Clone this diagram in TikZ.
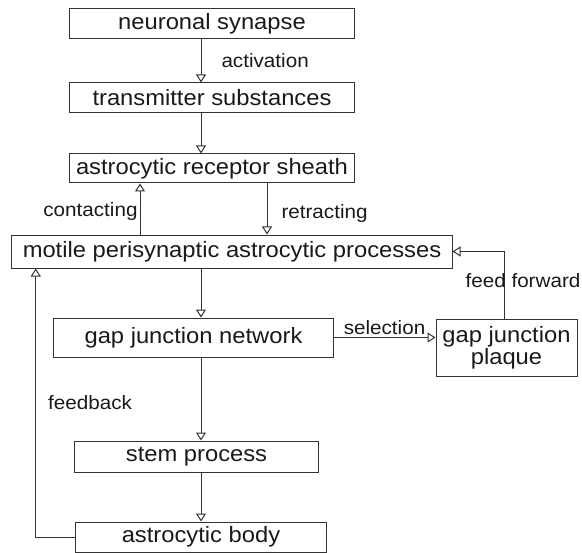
\documentclass[tikz,border=0pt]{standalone}
\usepackage{fontspec}
\setmainfont{Liberation Sans}[FakeStretch=1.07]
\usetikzlibrary{positioning}
\usetikzlibrary{arrows.meta}

\begin{document}
\begin{tikzpicture}[x=1bp, y=-1bp,
  stage/.style={draw=black!80, line width=1bp, rectangle, inner sep=0pt, align=center,
    font=\fontsize{22.2bp}{20bp}\selectfont, text=black!90},
  flow/.style={draw=black!80, line width=1bp, -{Triangle[open, length=8bp, width=10bp]}},
  tag/.style={font=\fontsize{19.3bp}{20bp}\selectfont, text=black!90, inner sep=2bp}]
\useasboundingbox (0,0) rectangle (582,553);
%boxes
\node[stage, minimum width=285bp, minimum height=30bp] (synapse) at (212,24) {neuronal synapse};
\node[stage, minimum width=285bp, minimum height=30bp] (transmitter) at (212,98) {transmitter substances};
\node[stage, minimum width=285bp, minimum height=29bp] (sheath) at (212,168.5) {astrocytic receptor sheath};
\node[stage, minimum width=440bp, minimum height=33bp] (motile) at (232,251.5) {motile perisynaptic astrocytic processes};
\node[stage, minimum width=279bp, minimum height=39bp] (network) at (193.5,337.5) {gap junction network};
\node[stage, minimum width=141bp, minimum height=57bp] (plaque) at (506.5,347.5) {gap junction\\plaque};
\node[stage, minimum width=243bp, minimum height=31bp] (stem) at (196.5,456.5) {stem process};
\node[stage, minimum width=251bp, minimum height=30bp] (body) at (201,537) {astrocytic body};
%columns for the connectors
\coordinate (spine) at (201,0);
\coordinate (cx) at (140,0);
\coordinate (rx) at (267,0);
\coordinate (ffx) at (504,0);
\coordinate (fbx) at (35.7,0);
%main column
\draw[flow] (synapse.south -| spine) -- (transmitter.north -| spine)
  node[tag, midway, anchor=west, xshift=18bp] {activation};
\draw[flow] (transmitter.south -| spine) -- (sheath.north -| spine);
\draw[flow] (motile.north -| cx) -- (sheath.south -| cx)
  node[tag, midway, anchor=east, yshift=-2.5bp] {contacting};
\draw[flow] (sheath.south -| rx) -- (motile.north -| rx)
  node[tag, midway, anchor=west, xshift=12bp, yshift=-4.5bp] {retracting};
\draw[flow] (motile.south -| spine) -- (network.north -| spine);
\draw[flow] (network.south -| spine) -- (stem.north -| spine);
\draw[flow] (stem.south -| spine) -- (body.north -| spine);
%side loops
\draw[flow] (network.east) -- (network.east -| plaque.west)
  node[tag, midway, anchor=south] {selection};
\draw[flow] (plaque.north -| ffx) |- (motile.east)
  node[tag, pos=0.28, xshift=19bp] {feed forward};
\draw[flow] (body.west) -| (motile.south -| fbx)
  node[tag, pos=0.75, anchor=west, xshift=10bp] {feedback};
\end{tikzpicture}
\end{document}
